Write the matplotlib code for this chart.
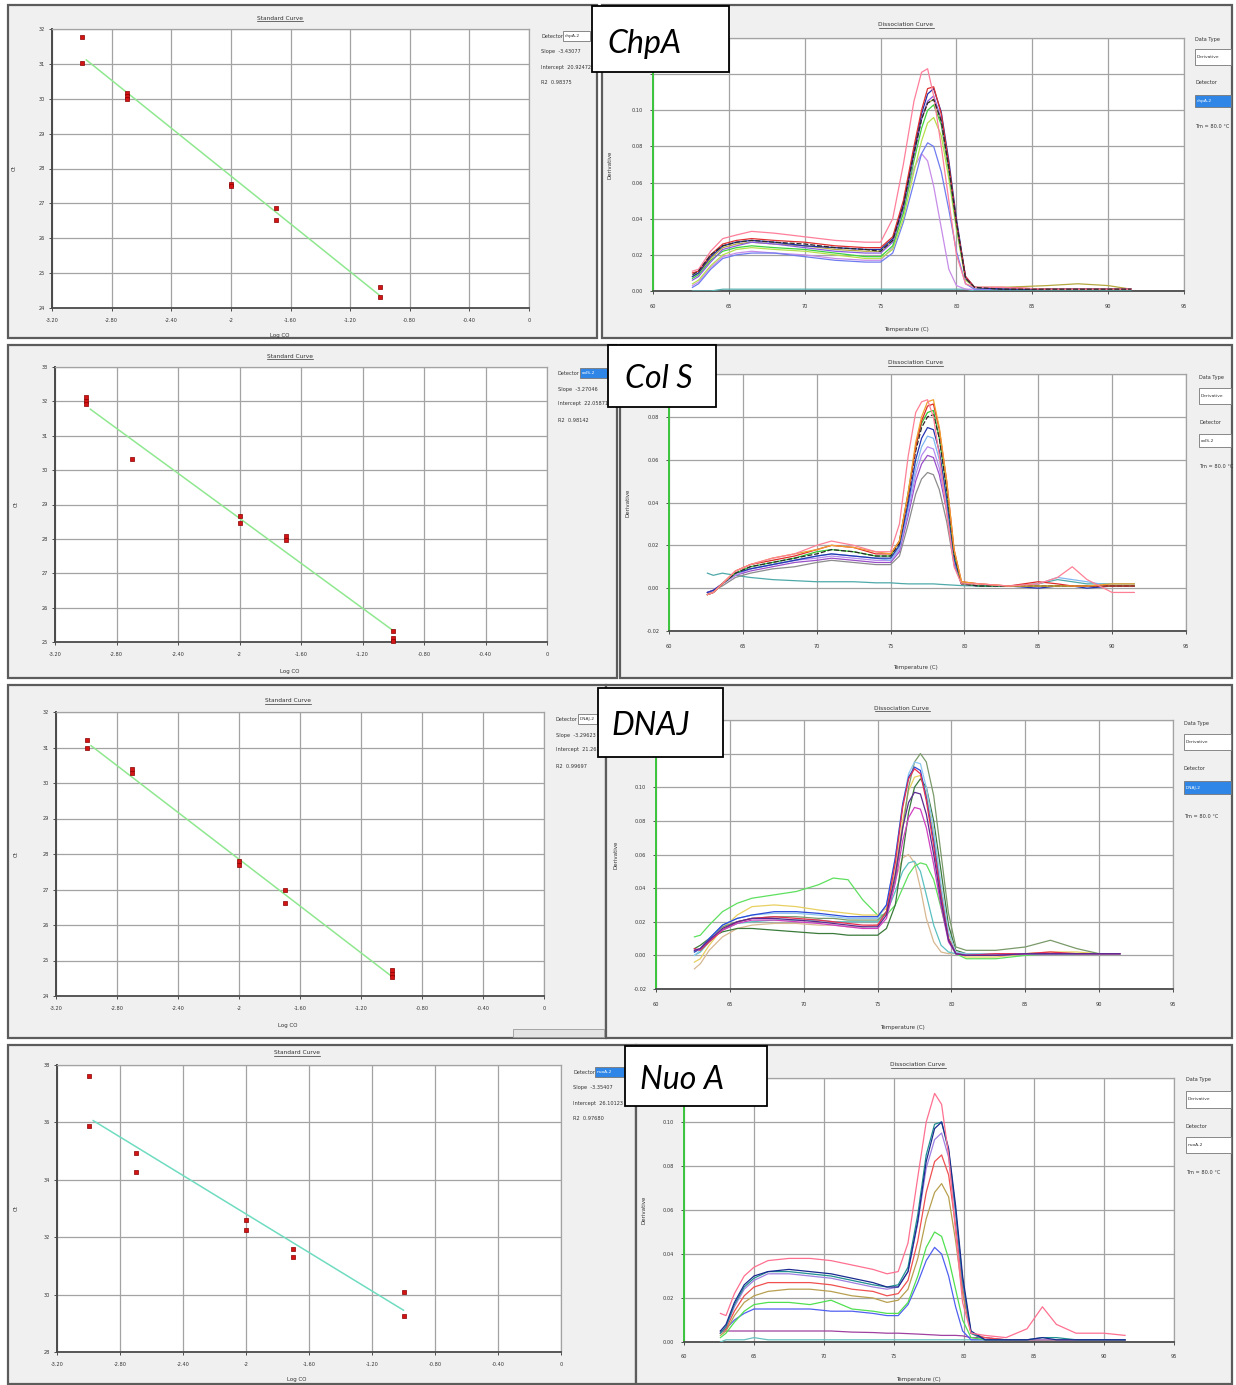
"""Four qPCR panels (standard curve + dissociation curve) for ChpA, Col S, DNAJ, Nuo A."""
import matplotlib
matplotlib.use("Agg")
import matplotlib.pyplot as plt
import numpy as np
from matplotlib.lines import Line2D
from matplotlib.patches import Rectangle

W, H = 1236, 1385

# --------------------------------------------------------------------------- #
# Data
# --------------------------------------------------------------------------- #
GENES = ["ChpA", "Col S", "DNAJ", "Nuo A"]
DETECTORS = ["chpA-2", "colS-2", "DNAJ-2", "nuoA-2"]

STD_XTICKS = [-3.2, -2.8, -2.4, -2.0, -1.6, -1.2, -0.8, -0.4, 0.0]
STD_XTICKLABELS = ["-3.20", "-2.80", "-2.40", "-2", "-1.60", "-1.20", "-0.80", "-0.40", "0"]
FIT_X = [-2.97, -1.0]

LOG_CO_CHPA = [-3.0, -3.0, -2.7, -2.7, -2.7, -2.0, -2.0, -1.7, -1.7, -1.0, -1.0]
CT_CHPA = [31.78, 31.02, 30.17, 30.08, 29.98, 27.56, 27.50, 26.88, 26.52, 24.60, 24.31]
LOG_CO_COLS = [-3.0, -3.0, -3.0, -2.7, -2.0, -2.0, -1.7, -1.7, -1.0, -1.0, -1.0]
CT_COLS = [32.12, 32.02, 31.93, 30.32, 28.66, 28.47, 28.07, 27.97, 25.31, 25.12, 25.02]
LOG_CO_DNAJ = [-3.0, -3.0, -2.7, -2.7, -2.0, -2.0, -1.7, -1.7, -1.0, -1.0, -1.0]
CT_DNAJ = [31.20, 30.99, 30.40, 30.28, 27.80, 27.70, 26.99, 26.62, 24.74, 24.63, 24.53]
LOG_CO_NUOA = [-3.0, -3.0, -2.7, -2.7, -2.0, -2.0, -1.7, -1.7, -1.0, -1.0]
CT_NUOA = [37.63, 35.87, 34.93, 34.27, 32.60, 32.24, 31.60, 31.30, 30.10, 29.25]

SLOPES = [-3.43077, -3.27046, -3.29623, -3.35407]
INTERCEPTS = [20.92472, 22.05871, 21.26118, 26.10123]
R2S = [0.98375, 0.98142, 0.99697, 0.97680]
STD_YLIMS = [(24, 32), (25, 33), (24, 32), (28, 38)]
STD_YSTEPS = [1, 1, 1, 2]

DIS_YLIMS = [(0.0, 0.14), (-0.02, 0.10), (-0.02, 0.14), (0.0, 0.12)]
TM_TEXT = "Tm = 80.0 \u00b0C"

# ChpA dissociation
T_CHPA = [62.6, 63.0, 63.8, 64.6, 65.5, 66.5, 68.0, 70.0, 72.0, 74.0, 75.0, 75.8, 76.5, 77.2,
          77.7, 78.1, 78.5, 79.0, 79.5, 80.0, 80.6, 81.2, 83.0, 86.0, 88.0, 90.0, 91.5]
CHPA_TEAL = [0.000, 0.000, 0.000, 0.001, 0.001, 0.001, 0.001, 0.001, 0.001, 0.001, 0.001, 0.001, 0.001,
             0.001, 0.001, 0.001, 0.001, 0.001, 0.001, 0.001, 0.001, 0.000, 0.000, 0.000, 0.000, 0.000, 0.000]
CHPA_LAVENDER = [0.003, 0.005, 0.013, 0.019, 0.021, 0.022, 0.021, 0.020, 0.018, 0.017, 0.017, 0.024, 0.045,
                 0.068, 0.076, 0.072, 0.058, 0.035, 0.012, 0.003, 0.001, 0.001, 0.001, 0.001, 0.001, 0.001, 0.001]
CHPA_BLUE = [0.002, 0.004, 0.012, 0.018, 0.020, 0.021, 0.021, 0.019, 0.017, 0.016, 0.016, 0.021, 0.038,
             0.060, 0.076, 0.082, 0.080, 0.066, 0.045, 0.022, 0.004, 0.001, 0.001, 0.001, 0.001, 0.001, 0.001]
CHPA_LIME = [0.004, 0.006, 0.014, 0.020, 0.023, 0.024, 0.023, 0.022, 0.020, 0.018, 0.018, 0.023, 0.040,
             0.066, 0.083, 0.093, 0.096, 0.086, 0.062, 0.034, 0.006, 0.002, 0.001, 0.001, 0.001, 0.001, 0.001]
CHPA_GREEN = [0.007, 0.009, 0.017, 0.022, 0.024, 0.025, 0.024, 0.023, 0.021, 0.019, 0.019, 0.025, 0.043,
              0.072, 0.090, 0.100, 0.103, 0.092, 0.066, 0.036, 0.007, 0.002, 0.001, 0.001, 0.001, 0.001, 0.001]
CHPA_OLIVE = [0.008, 0.010, 0.018, 0.024, 0.026, 0.027, 0.026, 0.025, 0.023, 0.022, 0.022, 0.028, 0.047,
              0.076, 0.095, 0.104, 0.106, 0.094, 0.068, 0.038, 0.007, 0.002, 0.002, 0.003, 0.004, 0.003, 0.001]
CHPA_VIOLET = [0.006, 0.008, 0.016, 0.023, 0.025, 0.027, 0.026, 0.024, 0.022, 0.021, 0.021, 0.027, 0.046,
               0.075, 0.095, 0.105, 0.108, 0.095, 0.068, 0.038, 0.007, 0.002, 0.001, 0.001, 0.001, 0.001, 0.001]
CHPA_NAVY = [0.008, 0.010, 0.019, 0.025, 0.027, 0.028, 0.027, 0.025, 0.024, 0.023, 0.023, 0.029, 0.048,
             0.078, 0.098, 0.109, 0.112, 0.099, 0.072, 0.040, 0.008, 0.002, 0.001, 0.001, 0.001, 0.001, 0.001]
CHPA_RED = [0.010, 0.011, 0.020, 0.026, 0.028, 0.029, 0.028, 0.027, 0.025, 0.024, 0.024, 0.030, 0.050,
            0.080, 0.100, 0.112, 0.113, 0.098, 0.070, 0.038, 0.008, 0.002, 0.002, 0.001, 0.001, 0.001, 0.001]
CHPA_PINK = [0.011, 0.012, 0.022, 0.029, 0.031, 0.033, 0.032, 0.030, 0.028, 0.027, 0.027, 0.040, 0.070,
             0.105, 0.121, 0.123, 0.108, 0.080, 0.050, 0.020, 0.004, 0.002, 0.002, 0.001, 0.001, 0.001, 0.001]
CHPA_BLACK = [0.009, 0.011, 0.020, 0.025, 0.027, 0.028, 0.027, 0.026, 0.024, 0.023, 0.022, 0.028, 0.047,
              0.076, 0.095, 0.104, 0.106, 0.094, 0.068, 0.038, 0.007, 0.002, 0.001, 0.001, 0.001, 0.001, 0.001]

# Col S dissociation
T_COLS = [62.6, 63.0, 63.6, 64.5, 65.5, 67.0, 68.5, 70.0, 71.0, 72.5, 74.0, 75.0, 75.6, 76.2, 76.7,
          77.1, 77.5, 77.9, 78.3, 78.8, 79.3, 79.8, 81.0, 83.0, 85.0, 86.3, 87.3, 88.3, 90.0, 91.5]
COLS_TEAL = [0.007, 0.006, 0.007, 0.006, 0.005, 0.004, 0.0035, 0.003, 0.003, 0.003, 0.0025, 0.0025, 0.0022,
             0.002, 0.002, 0.002, 0.002, 0.002, 0.0018, 0.0016, 0.0014, 0.0012, 0.001, 0.001, 0.002, 0.004,
             0.003, 0.002, 0.002, 0.002]
COLS_GRAY = [-0.002, -0.001, 0.001, 0.005, 0.007, 0.009, 0.010, 0.012, 0.013, 0.012, 0.011, 0.011, 0.015,
             0.030, 0.044, 0.051, 0.054, 0.053, 0.046, 0.031, 0.011, 0.002, 0.001, 0.001, 0.001, 0.001,
             0.001, 0.001, 0.001, 0.001]
COLS_PURPLE = [-0.002, -0.001, 0.002, 0.006, 0.008, 0.010, 0.012, 0.013, 0.014, 0.013, 0.012, 0.012, 0.017,
               0.034, 0.050, 0.058, 0.062, 0.061, 0.053, 0.036, 0.012, 0.002, 0.001, 0.001, 0.001, 0.001,
               0.001, 0.001, 0.001, 0.001]
COLS_VIOLET = [-0.002, -0.001, 0.002, 0.006, 0.009, 0.011, 0.013, 0.014, 0.015, 0.014, 0.013, 0.013, 0.018,
               0.036, 0.053, 0.062, 0.066, 0.065, 0.056, 0.038, 0.013, 0.002, 0.001, 0.001, 0.001, 0.001,
               0.001, 0.001, 0.001, 0.001]
COLS_LIGHTBLUE = [-0.003, -0.002, 0.002, 0.007, 0.009, 0.011, 0.013, 0.015, 0.016, 0.015, 0.014, 0.013, 0.019,
                  0.038, 0.056, 0.066, 0.071, 0.070, 0.060, 0.040, 0.014, 0.002, 0.001, 0.001, 0.002, 0.005,
                  0.004, 0.003, 0.001, 0.001]
COLS_NAVY = [-0.002, -0.001, 0.002, 0.007, 0.009, 0.011, 0.013, 0.015, 0.016, 0.015, 0.014, 0.014, 0.020,
             0.040, 0.060, 0.070, 0.075, 0.074, 0.064, 0.042, 0.014, 0.002, 0.001, 0.001, 0.000, 0.001,
             0.001, 0.000, 0.001, 0.001]
COLS_GREEN = [-0.003, -0.002, 0.002, 0.007, 0.010, 0.012, 0.014, 0.017, 0.018, 0.017, 0.015, 0.015, 0.022,
              0.045, 0.066, 0.077, 0.082, 0.083, 0.070, 0.046, 0.016, 0.002, 0.001, 0.001, 0.001, 0.001,
              0.001, 0.001, 0.001, 0.001]
COLS_BLACK = [-0.003, -0.002, 0.002, 0.007, 0.010, 0.012, 0.014, 0.016, 0.018, 0.017, 0.015, 0.015, 0.021,
              0.043, 0.064, 0.075, 0.080, 0.081, 0.070, 0.046, 0.016, 0.002, 0.001, 0.001, 0.001, 0.001,
              0.001, 0.001, 0.001, 0.001]
COLS_RED = [-0.003, -0.002, 0.002, 0.008, 0.011, 0.013, 0.015, 0.018, 0.020, 0.019, 0.016, 0.016, 0.022,
            0.044, 0.066, 0.078, 0.085, 0.086, 0.074, 0.050, 0.018, 0.003, 0.002, 0.001, 0.003, 0.002,
            0.001, 0.001, 0.001, 0.001]
COLS_ORANGE = [-0.003, -0.002, 0.002, 0.008, 0.011, 0.014, 0.016, 0.018, 0.020, 0.019, 0.017, 0.016, 0.022,
               0.045, 0.068, 0.080, 0.087, 0.088, 0.075, 0.050, 0.018, 0.003, 0.002, 0.001, 0.001, 0.001,
               0.001, 0.001, 0.002, 0.002]
COLS_PINK = [-0.003, -0.002, 0.002, 0.008, 0.011, 0.014, 0.016, 0.020, 0.022, 0.020, 0.017, 0.017, 0.030,
             0.062, 0.082, 0.087, 0.088, 0.080, 0.062, 0.035, 0.010, 0.002, 0.002, 0.001, 0.002, 0.005,
             0.010, 0.004, -0.002, -0.002]

# DNAJ dissociation
T_DNAJ = [62.6, 63.0, 63.6, 64.5, 65.5, 66.5, 68.0, 69.5, 71.0, 72.0, 73.0, 74.0, 75.0, 75.6, 76.2, 76.7,
          77.1, 77.5, 77.9, 78.3, 78.8, 79.3, 79.8, 80.3, 81.0, 83.0, 85.0, 86.7, 88.5, 90.0, 91.4]
DNAJ_LAVENDER = [-0.008, -0.005, 0.003, 0.011, 0.016, 0.018, 0.019, 0.019, 0.018, 0.018, 0.017, 0.017, 0.018,
                 0.026, 0.045, 0.058, 0.060, 0.055, 0.040, 0.022, 0.008, 0.002, 0.001, 0.001, 0.001, 0.001,
                 0.001, 0.001, 0.001, 0.001, 0.001]
DNAJ_TEAL = [0.000, 0.002, 0.008, 0.015, 0.019, 0.020, 0.021, 0.021, 0.021, 0.020, 0.020, 0.020, 0.020,
             0.025, 0.038, 0.050, 0.055, 0.056, 0.050, 0.036, 0.018, 0.006, 0.002, 0.001, 0.001, 0.001,
             0.001, 0.001, 0.001, 0.001, 0.001]
DNAJ_BRIGHTGREEN = [0.011, 0.012, 0.018, 0.026, 0.031, 0.034, 0.036, 0.038, 0.042, 0.046, 0.045, 0.033, 0.024,
                    0.024, 0.030, 0.040, 0.048, 0.053, 0.055, 0.054, 0.045, 0.028, 0.010, 0.001, -0.002,
                    -0.002, 0.000, 0.001, 0.001, 0.001, 0.001]
DNAJ_DARKGREEN = [0.004, 0.006, 0.010, 0.014, 0.016, 0.016, 0.015, 0.014, 0.013, 0.013, 0.012, 0.012, 0.012,
                  0.016, 0.030, 0.060, 0.085, 0.100, 0.105, 0.100, 0.080, 0.050, 0.018, 0.003, 0.001, 0.001,
                  0.001, 0.001, 0.001, 0.001, 0.001]
DNAJ_YELLOW = [-0.004, -0.002, 0.006, 0.016, 0.024, 0.029, 0.030, 0.029, 0.027, 0.026, 0.025, 0.024, 0.024,
               0.028, 0.050, 0.080, 0.098, 0.106, 0.107, 0.096, 0.072, 0.040, 0.013, 0.002, -0.001, -0.001,
               0.001, 0.002, 0.002, 0.001, 0.001]
DNAJ_OLIVE = [0.002, 0.004, 0.010, 0.017, 0.020, 0.022, 0.023, 0.023, 0.022, 0.022, 0.021, 0.021, 0.021,
              0.026, 0.045, 0.075, 0.100, 0.115, 0.120, 0.115, 0.095, 0.060, 0.025, 0.005, 0.003, 0.003,
              0.005, 0.009, 0.004, 0.001, 0.001]
DNAJ_LIGHTBLUE = [0.000, 0.003, 0.010, 0.018, 0.022, 0.024, 0.025, 0.025, 0.024, 0.023, 0.022, 0.022, 0.022,
                  0.030, 0.058, 0.090, 0.108, 0.115, 0.114, 0.100, 0.075, 0.042, 0.014, 0.002, 0.001, 0.001,
                  0.001, 0.001, 0.001, 0.001, 0.001]
DNAJ_BLUE = [0.002, 0.004, 0.010, 0.018, 0.022, 0.024, 0.026, 0.026, 0.025, 0.024, 0.023, 0.023, 0.023,
             0.030, 0.058, 0.090, 0.106, 0.112, 0.110, 0.094, 0.068, 0.036, 0.010, 0.001, 0.000, 0.000,
             0.001, 0.001, 0.001, 0.001, 0.001]
DNAJ_RED = [0.004, 0.003, 0.008, 0.015, 0.020, 0.022, 0.023, 0.022, 0.021, 0.020, 0.019, 0.018, 0.018,
            0.026, 0.055, 0.088, 0.105, 0.111, 0.108, 0.092, 0.065, 0.035, 0.010, 0.001, 0.000, 0.001,
            0.001, 0.002, 0.001, 0.001, 0.001]
DNAJ_MAGENTA = [0.003, 0.004, 0.009, 0.015, 0.019, 0.021, 0.021, 0.020, 0.019, 0.018, 0.017, 0.016, 0.016,
                0.022, 0.043, 0.068, 0.082, 0.088, 0.087, 0.076, 0.054, 0.029, 0.008, 0.001, 0.000, 0.000,
                0.001, 0.001, 0.001, 0.001, 0.001]
DNAJ_PURPLE = [0.003, 0.004, 0.009, 0.016, 0.020, 0.022, 0.022, 0.021, 0.020, 0.019, 0.018, 0.017, 0.017,
               0.024, 0.048, 0.076, 0.091, 0.097, 0.096, 0.084, 0.060, 0.032, 0.009, 0.001, 0.000, 0.000,
               0.001, 0.001, 0.001, 0.001, 0.001]

# Nuo A dissociation
T_NUOA = [62.6, 63.0, 63.6, 64.3, 65.0, 66.0, 67.5, 69.0, 70.5, 72.0, 73.5, 74.5, 75.3, 76.0, 76.7,
          77.3, 77.9, 78.4, 78.9, 79.4, 79.9, 80.5, 81.5, 83.0, 84.5, 85.6, 86.6, 88.0, 90.0, 91.5]
NUOA_TEAL_FLAT = [0.000, 0.001, 0.001, 0.001, 0.002, 0.001, 0.001, 0.001, 0.001, 0.001, 0.001, 0.001, 0.001,
                  0.001, 0.001, 0.001, 0.001, 0.001, 0.001, 0.001, 0.001, 0.001, 0.001, 0.001, 0.001, 0.001,
                  0.001, 0.001, 0.001, 0.001]
NUOA_MAGENTA = [0.005, 0.005, 0.005, 0.005, 0.005, 0.005, 0.005, 0.005, 0.005, 0.0045, 0.0043, 0.004, 0.004,
                0.0038, 0.0036, 0.0034, 0.0032, 0.003, 0.003, 0.003, 0.0028, 0.002, 0.002, 0.001, 0.001,
                0.001, 0.001, 0.001, 0.001, 0.001]
NUOA_BLUE = [0.004, 0.006, 0.010, 0.013, 0.015, 0.015, 0.015, 0.015, 0.014, 0.014, 0.013, 0.012, 0.012,
             0.017, 0.027, 0.037, 0.043, 0.040, 0.030, 0.016, 0.005, 0.001, 0.001, 0.001, 0.001, 0.001,
             0.001, 0.001, 0.001, 0.001]
NUOA_GREEN = [0.002, 0.004, 0.009, 0.014, 0.017, 0.018, 0.018, 0.017, 0.019, 0.015, 0.014, 0.013, 0.013,
              0.018, 0.030, 0.043, 0.050, 0.048, 0.038, 0.024, 0.010, 0.002, 0.001, 0.001, 0.001, 0.001,
              0.001, 0.001, 0.001, 0.001]
NUOA_OLIVE = [0.003, 0.005, 0.012, 0.018, 0.021, 0.023, 0.024, 0.024, 0.023, 0.021, 0.020, 0.018, 0.019,
              0.024, 0.038, 0.056, 0.068, 0.072, 0.066, 0.046, 0.022, 0.004, 0.001, 0.001, 0.001, 0.001,
              0.001, 0.001, 0.001, 0.001]
NUOA_RED = [0.004, 0.006, 0.014, 0.021, 0.025, 0.027, 0.027, 0.027, 0.026, 0.024, 0.023, 0.021, 0.022,
            0.028, 0.046, 0.068, 0.082, 0.085, 0.076, 0.053, 0.025, 0.004, 0.002, 0.001, 0.001, 0.001,
            0.001, 0.001, 0.001, 0.001]
NUOA_VIOLET = [0.004, 0.007, 0.016, 0.024, 0.028, 0.031, 0.031, 0.030, 0.029, 0.027, 0.025, 0.024, 0.025,
               0.032, 0.054, 0.079, 0.092, 0.095, 0.084, 0.058, 0.027, 0.004, 0.001, 0.001, 0.001, 0.001,
               0.001, 0.001, 0.001, 0.001]
NUOA_TEAL = [0.004, 0.007, 0.017, 0.025, 0.029, 0.032, 0.032, 0.031, 0.030, 0.028, 0.026, 0.025, 0.026,
             0.034, 0.058, 0.085, 0.099, 0.100, 0.087, 0.060, 0.028, 0.004, 0.001, 0.001, 0.001, 0.002,
             0.002, 0.001, 0.001, 0.001]
NUOA_NAVY = [0.005, 0.008, 0.018, 0.026, 0.030, 0.032, 0.033, 0.032, 0.031, 0.029, 0.027, 0.025, 0.025,
             0.032, 0.055, 0.082, 0.097, 0.100, 0.088, 0.062, 0.030, 0.005, 0.001, 0.001, 0.001, 0.002,
             0.001, 0.001, 0.001, 0.001]
NUOA_PINK = [0.013, 0.012, 0.022, 0.030, 0.034, 0.037, 0.038, 0.038, 0.037, 0.035, 0.033, 0.031, 0.032,
             0.045, 0.075, 0.100, 0.113, 0.108, 0.085, 0.050, 0.018, 0.004, 0.003, 0.002, 0.006, 0.016,
             0.008, 0.004, 0.004, 0.003]

# --------------------------------------------------------------------------- #
# Layout in reference pixels (x0, y0, x1, y1), y measured from the top
# --------------------------------------------------------------------------- #
LEFT_WINDOWS = [(8, 5, 597, 338), (8, 345, 617, 678), (8, 685, 606, 1038), (8, 1045, 636, 1384)]
RIGHT_WINDOWS = [(602, 5, 1232, 338), (620, 345, 1232, 678), (606, 685, 1232, 1038), (636, 1045, 1232, 1384)]
STD_AXES = [(52, 29, 529, 308), (55, 367, 547, 642), (56, 712, 544, 996), (57, 1065, 561, 1352)]
DIS_AXES = [(653, 38, 1184, 291), (669, 374, 1186, 631), (656, 720, 1173, 989), (684, 1078, 1174, 1342)]
LABEL_BOXES = [(592, 6, 729, 72), (608, 345, 716, 407), (598, 688, 723, 757), (625, 1046, 767, 1106)]
LABEL_TEXT_XY = [(607, 53), (625, 388), (611, 735), (640, 1089)]
# tick labels tucked under the gene label box
DIS_HIDDEN_TOP = [2, 1, 2, 1]
STD_TITLE_XY = [(280, 18), (290, 356), (288, 701), (297, 1053)]
DIS_TITLE_XY = [(906, 25), (915, 363), (902, 708), (918, 1065)]
STD_XLABEL_XY = [(280, 336), (290, 671), (288, 1025), (297, 1380)]
DIS_XLABEL_XY = [(906, 329), (915, 668), (902, 1028), (918, 1380)]
STD_YLABEL_X = [14, 16, 16, 16]
DIS_YLABEL_X = [610, 628, 616, 644]
# standard-curve legend: x, y of "Detector" row, detector box x1
STD_LEGEND = [(541, 36, 590), (558, 373, 607), (556, 719, 597), (573, 1072, 624)]
STD_LEGEND_BLUE = [False, True, False, True]
# dissociation legend: x, y of "Data Type", box y's, "Detector" y, box y's, Tm y
DIS_LEGEND = [
    (1195, 39, (49, 65), 83, (95, 107), 127),
    (1199, 378, (388, 404), 422, (434, 447), 467),
    (1184, 723, (734, 750), 769, (781, 794), 816),
    (1186, 1080, (1091, 1108), 1126, (1137, 1153), 1172),
]
DIS_LEGEND_BLUE = [True, False, True, False]

FIT_COLORS = ["#8fe88f", "#8fe88f", "#8fe88f", "#6fdcc0"]
SMALL = 3.6
TXT = "#333333"
GRID = "#a3a3a3"
HILITE = "#2f86e6"

fig = plt.figure(figsize=(W / 100, H / 100), dpi=100)
fig.patch.set_facecolor("white")


def frac(x0, y0, x1, y1):
    return [x0 / W, 1 - y1 / H, (x1 - x0) / W, (y1 - y0) / H]


def fig_rect(x0, y0, x1, y1, **kw):
    fig.add_artist(Rectangle((x0 / W, 1 - y1 / H), (x1 - x0) / W, (y1 - y0) / H,
                             transform=fig.transFigure, **kw))


def fig_text(x, y, s, **kw):
    kw.setdefault("fontsize", SMALL)
    kw.setdefault("color", TXT)
    return fig.text(x / W, 1 - y / H, s, **kw)


def style_axes(ax, left_color):
    ax.set_facecolor("white")
    ax.grid(True, color=GRID, lw=0.9)
    ax.set_axisbelow(True)
    for side in ("top", "right"):
        ax.spines[side].set_color(GRID)
        ax.spines[side].set_linewidth(0.9)
    ax.spines["bottom"].set_color("#4a4a4a")
    ax.spines["bottom"].set_linewidth(1.3)
    ax.spines["left"].set_color(left_color)
    ax.spines["left"].set_linewidth(1.4)


def std_panel(i, logco, ct):
    ax = fig.add_axes(frac(*STD_AXES[i]))
    lo, hi = STD_YLIMS[i]
    ax.set_xlim(-3.2, 0)
    ax.set_ylim(lo, hi)
    ax.set_xticks(STD_XTICKS)
    ax.set_xticklabels(STD_XTICKLABELS)
    ax.set_yticks(np.arange(lo, hi + 1, STD_YSTEPS[i]))
    ax.tick_params(axis="x", labelsize=SMALL, length=2, width=0.6, pad=5, colors=TXT)
    ax.tick_params(axis="y", labelsize=SMALL, length=2, width=0.6, pad=3, colors=TXT)
    style_axes(ax, "#4a4a4a")
    fx = np.array(FIT_X)
    ax.plot(fx, SLOPES[i] * fx + INTERCEPTS[i], color=FIT_COLORS[i], lw=1.1, zorder=3)
    ax.scatter(logco, ct, marker="s", s=11, c="#d41414", edgecolors="#8a0000",
               linewidths=0.5, zorder=4, clip_on=False)
    return ax


def dis_panel(i, temps, curves):
    ax = fig.add_axes(frac(*DIS_AXES[i]))
    lo, hi = DIS_YLIMS[i]
    ax.set_xlim(60, 95)
    ax.set_ylim(lo, hi)
    ax.set_xticks(np.arange(60, 96, 5))
    yt = np.arange(lo, hi + 0.001, 0.02)
    ax.set_yticks(yt)
    n_hide = DIS_HIDDEN_TOP[i]
    ax.set_yticklabels([f"{v:.2f}" if k < len(yt) - n_hide else "" for k, v in enumerate(yt)])
    ax.tick_params(axis="x", labelsize=SMALL, length=2, width=0.6, pad=7, colors=TXT)
    ax.tick_params(axis="y", labelsize=SMALL, length=2, width=0.6, pad=5, colors=TXT)
    style_axes(ax, "#3cc43c")
    for values, color, ls in curves:
        ax.plot(temps, values, color=color, lw=0.9, ls=ls, zorder=3)
    return ax


STD_DATA = [(LOG_CO_CHPA, CT_CHPA), (LOG_CO_COLS, CT_COLS), (LOG_CO_DNAJ, CT_DNAJ), (LOG_CO_NUOA, CT_NUOA)]
DIS_DATA = [
    (T_CHPA, [(CHPA_TEAL, "#58b0b0", "-"), (CHPA_LAVENDER, "#c78ce8", "-"), (CHPA_BLUE, "#6f7cf0", "-"),
              (CHPA_LIME, "#b6e04c", "-"), (CHPA_GREEN, "#3fd23f", "-"), (CHPA_OLIVE, "#b5a840", "-"),
              (CHPA_VIOLET, "#8a5be0", "-"), (CHPA_NAVY, "#1f2fa8", "-"), (CHPA_RED, "#e03030", "-"),
              (CHPA_PINK, "#ff7f9a", "-"), (CHPA_BLACK, "#2a2a2a", (0, (4, 1.5)))]),
    (T_COLS, [(COLS_TEAL, "#4fa9a9", "-"), (COLS_GRAY, "#8c8c8c", "-"), (COLS_PURPLE, "#9a4fc8", "-"),
              (COLS_VIOLET, "#b58af0", "-"), (COLS_LIGHTBLUE, "#7fb8f0", "-"), (COLS_NAVY, "#2535b0", "-"),
              (COLS_GREEN, "#33c833", "-"), (COLS_BLACK, "#2a2a2a", (0, (4, 1.5))), (COLS_RED, "#e02a2a", "-"),
              (COLS_ORANGE, "#f0a030", "-"), (COLS_PINK, "#ff8095", "-")]),
    (T_DNAJ, [(DNAJ_LAVENDER, "#d8b890", "-"), (DNAJ_TEAL, "#5cc0c0", "-"), (DNAJ_BRIGHTGREEN, "#5ee05e", "-"),
              (DNAJ_DARKGREEN, "#3a7a3a", "-"), (DNAJ_YELLOW, "#e8d060", "-"), (DNAJ_OLIVE, "#7a9a6a", "-"),
              (DNAJ_LIGHTBLUE, "#8ec8f0", "-"), (DNAJ_BLUE, "#2a4ad8", "-"), (DNAJ_RED, "#e83050", "-"),
              (DNAJ_MAGENTA, "#d040c0", "-"), (DNAJ_PURPLE, "#5a2a90", "-")]),
    (T_NUOA, [(NUOA_TEAL_FLAT, "#6ac0c0", "-"), (NUOA_MAGENTA, "#a040a0", "-"), (NUOA_BLUE, "#5060f0", "-"),
              (NUOA_GREEN, "#50e050", "-"), (NUOA_OLIVE, "#b8a050", "-"), (NUOA_RED, "#f05050", "-"),
              (NUOA_VIOLET, "#a080e0", "-"), (NUOA_TEAL, "#209090", "-"), (NUOA_NAVY, "#1a2a90", "-"),
              (NUOA_PINK, "#ff7090", "-")]),
]

titles = []
for i in range(4):
    for box in (LEFT_WINDOWS[i], RIGHT_WINDOWS[i]):
        fig_rect(*box, facecolor="#f0f0f0", edgecolor="#5c5c5c", lw=1.6, zorder=-2)

    std_panel(i, *STD_DATA[i])
    dis_panel(i, *DIS_DATA[i])

    cx, cy = STD_TITLE_XY[i]
    titles.append(fig_text(cx, cy, "Standard Curve", ha="center", va="center", fontsize=4.2))
    cx, cy = DIS_TITLE_XY[i]
    titles.append(fig_text(cx, cy, "Dissociation Curve", ha="center", va="center", fontsize=4.2))

    x, y = STD_XLABEL_XY[i]
    fig_text(x, y, "Log CO", ha="center", va="center", fontsize=4.0)
    x, y = DIS_XLABEL_XY[i]
    fig_text(x, y, "Temperature (C)", ha="center", va="center", fontsize=4.0)
    ymid = (STD_AXES[i][1] + STD_AXES[i][3]) / 2
    fig_text(STD_YLABEL_X[i], ymid, "Ct", ha="center", va="center", rotation=90, fontsize=4.0)
    ymid = (DIS_AXES[i][1] + DIS_AXES[i][3]) / 2
    fig_text(DIS_YLABEL_X[i], ymid, "Derivative", ha="center", va="center", rotation=90, fontsize=4.0)

    # standard-curve legend block
    lx, ly, bx1 = STD_LEGEND[i]
    fig_text(lx, ly, "Detector", va="center")
    fig_rect(lx + 22, ly - 5, bx1, ly + 5, facecolor=HILITE if STD_LEGEND_BLUE[i] else "white",
             edgecolor="#777777", lw=0.6, zorder=1)
    fig_text(lx + 24, ly, DETECTORS[i], va="center", fontsize=3.2,
             color="white" if STD_LEGEND_BLUE[i] else TXT, zorder=2)
    fig_text(lx, ly + 16, f"Slope  {SLOPES[i]:.5f}", va="center")
    fig_text(lx, ly + 31, f"Intercept  {INTERCEPTS[i]:.5f}", va="center")
    fig_text(lx, ly + 47, f"R2  {R2S[i]:.5f}", va="center")

    # dissociation legend block
    dx, dty, (b1, b2), dety, (c1, c2), tmy = DIS_LEGEND[i]
    x1 = RIGHT_WINDOWS[i][2] - 1
    fig_text(dx, dty, "Data Type", va="center")
    fig_rect(dx, b1, x1, b2, facecolor="white", edgecolor="#777777", lw=0.6, zorder=1)
    fig_text(dx + 2, (b1 + b2) / 2, "Derivative", va="center", fontsize=3.2, zorder=2)
    fig_text(dx, dety, "Detector", va="center")
    fig_rect(dx, c1, x1, c2, facecolor=HILITE if DIS_LEGEND_BLUE[i] else "white",
             edgecolor="#777777", lw=0.6, zorder=1)
    fig_text(dx + 2, (c1 + c2) / 2, DETECTORS[i], va="center", fontsize=3.2,
             color="white" if DIS_LEGEND_BLUE[i] else TXT, zorder=2)
    fig_text(dx, tmy, TM_TEXT, va="center")

    # gene label box on top of everything
    fig_rect(*LABEL_BOXES[i], facecolor="white", edgecolor="black", lw=1.3, zorder=10)
    tx, ty = LABEL_TEXT_XY[i]
    fig_text(tx, ty, GENES[i], fontsize=23, color="black", family=["Lato", "DejaVu Sans"],
             style="italic", va="baseline", zorder=11)

# small scroll bar in the third standard-curve window
fig_rect(513, 1029, 604, 1037, facecolor="#e4e4e4", edgecolor="#9a9a9a", lw=0.6, zorder=1)

# underline the window titles
fig.canvas.draw()
renderer = fig.canvas.get_renderer()
for t in titles:
    bb = t.get_window_extent(renderer).transformed(fig.transFigure.inverted())
    fig.add_artist(Line2D([bb.x0, bb.x1], [bb.y0, bb.y0], transform=fig.transFigure,
                          color=TXT, lw=0.5))

fig.savefig("out.png", dpi=100, facecolor="white")
